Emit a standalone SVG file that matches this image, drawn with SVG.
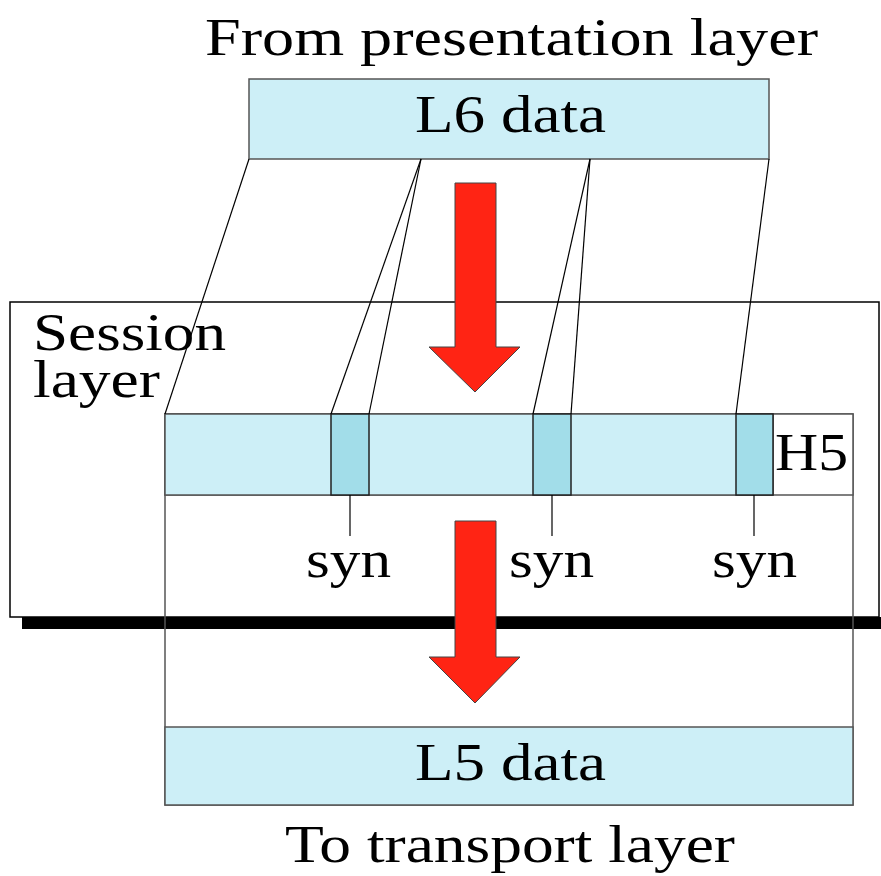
<svg xmlns="http://www.w3.org/2000/svg" width="881" height="876" viewBox="0 0 881 876">
<style>
text{font-family:"Liberation Serif","Times New Roman",serif;font-size:53px;fill:#000}
.data{fill:#cdeff7;stroke:#555;stroke-width:1.5}
.syn{fill:#a2dde9;stroke:#222;stroke-width:1.5}
.ln{stroke:#000;stroke-width:1.2;fill:none}
.arrow{fill:#ff2414;stroke:#444;stroke-width:1}
</style>
<rect width="881" height="876" fill="#fff"/>
<g id="session">
<rect x="22" y="617" width="859" height="12" fill="#000"/>
<rect x="10" y="302" width="869" height="315" fill="#fff" stroke="#000" stroke-width="1.5"/>
<text x="33" y="350" font-size="50" textLength="193" lengthAdjust="spacingAndGlyphs">Session</text>
<text x="33" y="397" font-size="50" textLength="127" lengthAdjust="spacingAndGlyphs">layer</text>
</g>
<g id="lower">
<rect x="165" y="414" width="688" height="391" fill="none" stroke="#555" stroke-width="1.5"/>
<rect x="165" y="414" width="688" height="81" fill="#fff" stroke="#555" stroke-width="1.5"/>
</g>
<g id="segments">
<rect class="data" x="165" y="414" width="608" height="81"/>
<rect class="syn" x="331" y="414" width="38" height="81"/>
<rect class="syn" x="533" y="414" width="38" height="81"/>
<rect class="syn" x="736" y="414" width="37" height="81"/>
<text x="775" y="470" textLength="73" lengthAdjust="spacingAndGlyphs">H5</text>
</g>
<g id="l6">
<rect class="data" x="249" y="79" width="520" height="80"/>
<text x="415" y="132" textLength="191" lengthAdjust="spacingAndGlyphs">L6 data</text>
</g>
<g id="l5">
<rect class="data" x="165" y="727" width="688" height="78"/>
<text x="415" y="780" textLength="191" lengthAdjust="spacingAndGlyphs">L5 data</text>
</g>
<g id="connectors">
<line class="ln" x1="249" y1="159" x2="165" y2="414"/>
<line class="ln" x1="421" y1="159" x2="331" y2="414"/>
<line class="ln" x1="421" y1="159" x2="369" y2="414"/>
<line class="ln" x1="590" y1="159" x2="533" y2="414"/>
<line class="ln" x1="590" y1="159" x2="571" y2="414"/>
<line class="ln" x1="769" y1="159" x2="736" y2="414"/>
<line class="ln" x1="350" y1="495" x2="350" y2="536"/>
<line class="ln" x1="552" y1="495" x2="552" y2="536"/>
<line class="ln" x1="754" y1="495" x2="754" y2="536"/>
<path id="arrow1" class="arrow" d="M455,183 H496 V347 H520 L475,392 L429,347 H455 Z"/>
<path id="arrow2" class="arrow" d="M455,521 H496 V657 H520 L475,703 L429,657 H455 Z"/>
</g>
<g id="labels">
<text x="205" y="55" textLength="613" lengthAdjust="spacingAndGlyphs">From presentation layer</text>
<text x="306" y="577" textLength="85" lengthAdjust="spacingAndGlyphs">syn</text>
<text x="509" y="577" textLength="85" lengthAdjust="spacingAndGlyphs">syn</text>
<text x="712" y="577" textLength="85" lengthAdjust="spacingAndGlyphs">syn</text>
<text x="285" y="862" textLength="450" lengthAdjust="spacingAndGlyphs">To transport layer</text>
</g>
</svg>
